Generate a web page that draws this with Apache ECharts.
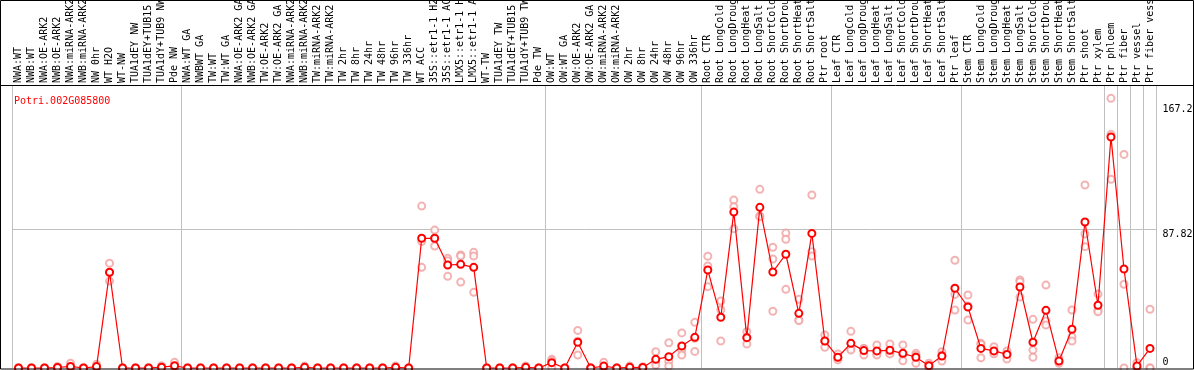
<!DOCTYPE html>
<html>
<head>
<meta charset="utf-8">
<script src="https://cdn.jsdelivr.net/npm/echarts@6/dist/echarts.min.js"></script>
<style>
html,body{margin:0;padding:0;background:#fff;}
#chart{width:1194px;height:370px;}
</style>
</head>
<body>
<div id="chart"></div>
<script>
const geneTitle = 'Potri.002G085800';

const categories = [
  'NWA:WT','NWB:WT','NWA:OE-ARK2','NWB:OE-ARK2','NWA:miRNA-ARK2','NWB:miRNA-ARK2','NW 0hr','WT H2O','WT-NW',
  'TUA1dEY NW','TUA1dEY+TUB15 NW','TUA1dY+TUB9 NW','Pde NW',
  'NWA:WT GA','NWBWT GA','TW:WT','TW:WT GA','NWA:OE-ARK2 GA','NWB:OE-ARK2 GA','TW:OE-ARK2','TW:OE-ARK2 GA',
  'NWA:miRNA-ARK2 GA','NWB:miRNA-ARK2 GA','TW:miRNA-ARK2','TW:miRNA-ARK2 GA',
  'TW 2hr','TW 8hr','TW 24hr','TW 48hr','TW 96hr','TW 336hr',
  'WT ACC','35S::etr1-1 H2O','35S::etr1-1 ACC','LMX5::etr1-1 H2O','LMX5::etr1-1 ACC',
  'WT-TW','TUA1dEY TW','TUA1dEY+TUB15 TW','TUA1dY+TUB9 TW','Pde TW',
  'OW:WT','OW:WT GA','OW:OE-ARK2','OW:OE-ARK2 GA','OW:miRNA-ARK2','OW:miRNA-ARK2 GA',
  'OW 2hr','OW 8hr','OW 24hr','OW 48hr','OW 96hr','OW 336hr',
  'Root CTR','Root LongCold','Root LongDrought','Root LongHeat','Root LongSalt',
  'Root ShortCold','Root ShortDrought','Root ShortHeat','Root ShortSalt','Ptr root',
  'Leaf CTR','Leaf LongCold','Leaf LongDrought','Leaf LongHeat','Leaf LongSalt',
  'Leaf ShortCold','Leaf ShortDrought','Leaf ShortHeat','Leaf ShortSalt','Ptr leaf',
  'Stem CTR','Stem LongCold','Stem LongDrought','Stem LongHeat','Stem LongSalt',
  'Stem ShortCold','Stem ShortDrought','Stem ShortHeat','Stem ShortSalt',
  'Ptr shoot','Ptr xylem','Ptr phloem','Ptr fiber','Ptr vessel','Ptr fiber vessel'
];

// Indices of categories that start a new group (separator drawn before them)
const groupStarts = [0, 13, 41, 53, 63, 73, 84, 85, 86, 87];

// Mean expression per category
const means = [
  0, 0, 0, 0.3, 1.0, 0, 0.9, 60.6, 0,
  0, 0, 0.5, 1.4,
  0, 0, 0, 0, 0, 0, 0, 0,
  0, 0.4, 0, 0,
  0, 0, 0, 0, 0.4, 0,
  82.1, 82.1, 65.2, 65.6, 63.7,
  0, 0, 0, 0.4, 0,
  3.4, 0, 16.3, 0, 1.2, 0,
  0.4, 0.3, 5.5, 7.2, 13.9, 19.4,
  62.0, 32.1, 98.7, 19.2, 101.7,
  60.8, 72.0, 34.6, 85.2, 17.1,
  6.8, 15.6, 11.0, 10.8, 11.2,
  9.3, 6.8, 1.5, 7.6, 50.5,
  38.6, 12.4, 10.8, 8.6, 51.3,
  16.3, 36.5, 4.4, 24.5,
  92.4, 39.7, 146.2, 62.7, 1.3, 12.4
];

// Replicate values (three per category)
const rep1 = [
  0, 0, 0, 1.0, 3.0, 0, 2.3, 66.3, 0,
  0, 0, 1.5, 3.6,
  0, 0, 0, 0, 0, 0, 0, 0,
  0, 1.2, 0, 0,
  0, 0, 0, 0, 1.3, 0,
  102.5, 87.3, 69.4, 71.5, 73.2,
  0, 0, 0, 1.3, 0,
  5.5, 0, 23.8, 0, 3.6, 0,
  1.2, 0.8, 10.3, 16.0, 22.2, 28.9,
  70.7, 42.4, 106.3, 23.0, 113.1,
  76.4, 85.4, 43.5, 109.5, 20.9,
  8.9, 23.2, 12.4, 14.6, 15.2,
  14.6, 9.3, 3.0, 10.3, 68.2,
  46.2, 15.6, 13.5, 9.3, 55.7,
  30.8, 52.5, 6.5, 36.7,
  115.8, 46.8, 170.7, 135.2, 3.4, 37.2
];
const rep2 = [
  0, 0, 0, 0, 0, 0, 0.3, 60.5, 0,
  0, 0, 0, 0.5,
  0, 0, 0, 0, 0, 0, 0, 0,
  0, 0, 0, 0,
  0, 0, 0, 0, 0, 0,
  80.0, 82.0, 67.9, 70.9, 70.9,
  0, 0, 0, 0, 0,
  4.7, 0, 17.0, 0, 0, 0,
  0, 0, 4.3, 4.3, 11.3, 18.8,
  64.6, 36.8, 102.1, 19.4, 96.2,
  69.0, 81.5, 30.4, 73.6, 17.1,
  6.5, 12.3, 12.4, 9.6, 9.5,
  8.7, 8.0, 1.5, 8.1, 46.6,
  39.3, 15.0, 10.0, 10.8, 54.6,
  11.4, 29.8, 3.8, 19.8,
  84.8, 36.7, 147.9, 53.0, 0.5, 0
];
const rep3 = [
  0, 0, 0, 0, 0, 0, 0, 55.0, 0,
  0, 0, 0, 0,
  0, 0, 0, 0, 0, 0, 0, 0,
  0, 0, 0, 0,
  0, 0, 0, 0, 0, 0,
  63.7, 77.2, 58.0, 54.4, 47.9,
  0, 0, 0, 0, 0,
  0, 0, 8.2, 0, 0, 0,
  0, 0, 1.9, 1.3, 8.2, 10.5,
  51.5, 17.1, 88.2, 15.2, 95.8,
  35.9, 49.8, 30.0, 70.9, 13.1,
  5.1, 11.4, 8.2, 8.2, 8.9,
  4.6, 3.0, 0, 4.4, 36.7,
  30.4, 6.5, 9.0, 5.7, 44.9,
  6.8, 27.2, 3.0, 17.1,
  76.8, 35.6, 119.4, 0, 0, 0
];

// Right-side value labels
const yTickValues = [0, 87.82, 167.2];
const yMax = 178.5;

const mono = 'DejaVu Sans Mono';
const isGroupStart = (i) => groupStarts.indexOf(i) >= 0;

const repData = [];
[rep1, rep2, rep3].forEach(arr => arr.forEach((v, i) => repData.push([i, v])));

const chart = echarts.init(document.getElementById('chart'), null, {renderer: 'canvas'});
chart.setOption({
  animation: false,
  backgroundColor: '#fff',
  title: {
    text: geneTitle, left: 9, top: 91,
    textStyle: {color: '#ff0000', fontFamily: mono, fontSize: 10, fontWeight: 'normal'}
  },
  grid: {left: 12, right: 37.5, top: 86, bottom: 2, containLabel: false, outerBoundsMode: 'none'},
  xAxis: {
    type: 'category', data: categories, position: 'top', boundaryGap: true,
    axisLine: {show: false},
    axisTick: {show: true, interval: isGroupStart, length: 86, alignWithLabel: false,
      lineStyle: {color: '#c0c0c0', width: 1}},
    axisLabel: {interval: 0, rotate: 90, margin: 3, color: '#000', fontFamily: mono, fontSize: 10,
      hideOverlap: false},
    splitLine: {show: true, interval: isGroupStart, lineStyle: {color: '#c0c0c0', width: 1}}
  },
  yAxis: {
    type: 'value', position: 'right', min: 0, max: yMax,
    axisLine: {show: false}, axisTick: {show: false}, splitLine: {show: false},
    axisLabel: {
      customValues: yTickValues, margin: 6, color: '#000', fontFamily: mono, fontSize: 10,
      formatter: (v) => v === 0 ? '{b|0}' : '{t|' + v + '}',
      rich: {
        t: {fontFamily: mono, fontSize: 10, color: '#000', padding: [11, 0, 0, 0]},
        b: {fontFamily: mono, fontSize: 10, color: '#000', padding: [0, 0, 11, 0]}
      }
    }
  },
  series: [
    {
      type: 'scatter', data: repData, clip: false, z: 2,
      symbol: 'emptyCircle', symbolSize: 7,
      itemStyle: {color: '#f0a0a0', borderColor: '#f0a0a0', borderWidth: 1.2}
    },
    {
      type: 'line', data: means, clip: false, z: 3,
      symbol: 'emptyCircle', symbolSize: 7, showAllSymbol: true,
      lineStyle: {color: '#ff0000', width: 1.2},
      itemStyle: {color: '#ff0000', borderColor: '#ff0000', borderWidth: 1.6},
      markLine: {
        silent: true, symbol: 'none', label: {show: false},
        lineStyle: {color: '#c0c0c0', type: 'solid', width: 1},
        data: [{yAxis: yTickValues[1]}], z: 1
      }
    }
  ],
  graphic: [
    {type: 'rect', shape: {x: 0.5, y: 0.5, width: 1193, height: 368.5},
      style: {fill: null, stroke: '#000', lineWidth: 1}, z: 100, silent: true},
    {type: 'line', shape: {x1: 0, y1: 85.5, x2: 1194, y2: 85.5},
      style: {stroke: '#000', lineWidth: 1}, z: 100, silent: true}
  ]
});
</script>
</body>
</html>
